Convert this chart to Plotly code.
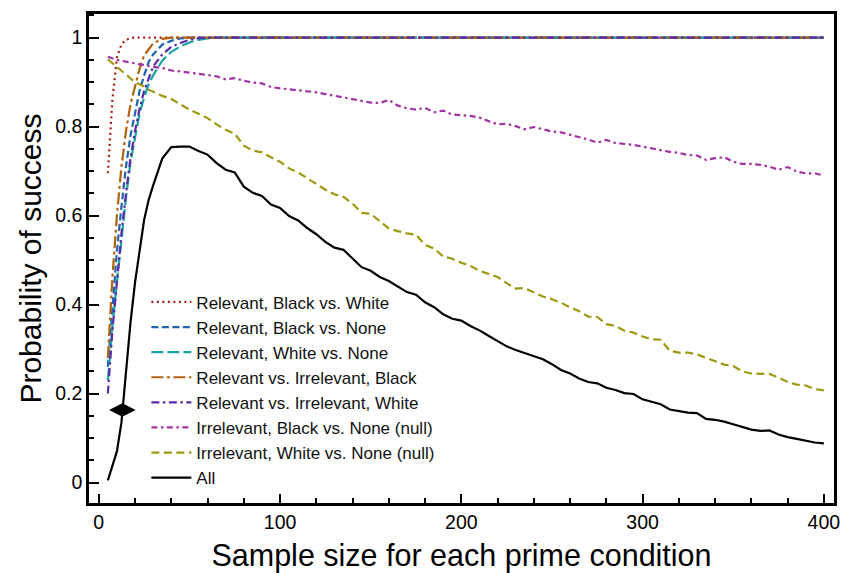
import plotly.graph_objects as go

# ---------------- data ----------------
X_EARLY = [5, 7.5, 10, 12.5, 15, 17.5, 20, 22.5, 25, 27.5, 30, 35, 40, 45, 50, 55, 60, 65, 70, 400]

rel_black_white = [0.695, 0.86, 0.955, 0.985, 0.995, 0.999, 1.0, 1.0, 1.0, 1.0, 1.0, 1.0, 1.0, 1.0, 1.0, 1.0, 1.0, 1.0, 1.0, 1.0]
rel_black_none = [0.26, 0.40, 0.52, 0.62, 0.71, 0.78, 0.83, 0.88, 0.915, 0.945, 0.962, 0.984, 0.993, 0.998, 1.0, 1.0, 1.0, 1.0, 1.0, 1.0]
rel_white_none = [0.23, 0.35, 0.45, 0.55, 0.64, 0.72, 0.78, 0.83, 0.865, 0.895, 0.915, 0.948, 0.968, 0.98, 0.989, 0.995, 0.998, 1.0, 1.0, 1.0]
rel_irr_black = [0.28, 0.46, 0.60, 0.71, 0.79, 0.85, 0.89, 0.93, 0.96, 0.975, 0.987, 0.997, 1.0, 1.0, 1.0, 1.0, 1.0, 1.0, 1.0, 1.0]
rel_irr_white = [0.20, 0.34, 0.45, 0.56, 0.65, 0.73, 0.79, 0.84, 0.88, 0.91, 0.935, 0.962, 0.979, 0.988, 0.995, 0.999, 1.0, 1.0, 1.0, 1.0]

X_ALL = [5, 7.5, 10, 12.5, 15, 17.5, 20, 22.5, 25, 27.5, 30,
         35, 40, 45, 50, 55, 60, 65, 70, 75, 80, 85, 90, 95, 100,
         105, 110, 115, 120, 125, 130, 135, 140, 145, 150, 155, 160, 165, 170, 175, 180,
         185, 190, 195, 200, 205, 210, 215, 220, 225, 230, 235, 240, 245, 250, 255, 260,
         265, 270, 275, 280, 285, 290, 295, 300, 305, 310, 315, 320, 325, 330, 335, 340,
         345, 350, 355, 360, 365, 370, 375, 380, 385, 390, 395, 400]

irr_black_none = [0.957, 0.953, 0.950, 0.948, 0.946, 0.944, 0.942, 0.940, 0.937, 0.935, 0.934,
                  0.932, 0.926, 0.924, 0.921, 0.918, 0.916, 0.913, 0.906, 0.909, 0.903, 0.899, 0.897, 0.889, 0.886,
                  0.884, 0.881, 0.879, 0.877, 0.873, 0.869, 0.866, 0.862, 0.857, 0.854, 0.853, 0.860, 0.847, 0.841, 0.838, 0.842,
                  0.832, 0.836, 0.827, 0.826, 0.824, 0.820, 0.812, 0.805, 0.806, 0.801, 0.794, 0.799, 0.794, 0.789, 0.787, 0.782,
                  0.776, 0.771, 0.764, 0.770, 0.763, 0.761, 0.759, 0.755, 0.751, 0.746, 0.743, 0.741, 0.736, 0.735, 0.725, 0.729,
                  0.731, 0.721, 0.716, 0.716, 0.714, 0.710, 0.703, 0.709, 0.699, 0.695, 0.695, 0.690]

irr_white_none = [0.951, 0.943, 0.935, 0.926, 0.917, 0.908, 0.900, 0.895, 0.890, 0.883, 0.878,
                  0.869, 0.862, 0.850, 0.838, 0.829, 0.819, 0.805, 0.793, 0.784, 0.757, 0.746, 0.742, 0.731, 0.721,
                  0.706, 0.697, 0.684, 0.671, 0.658, 0.648, 0.642, 0.627, 0.606, 0.604, 0.588, 0.571, 0.565, 0.560, 0.557, 0.534,
                  0.526, 0.508, 0.503, 0.494, 0.487, 0.476, 0.469, 0.462, 0.448, 0.436, 0.437, 0.427, 0.418, 0.412, 0.404, 0.394,
                  0.385, 0.373, 0.372, 0.356, 0.352, 0.341, 0.337, 0.328, 0.322, 0.321, 0.296, 0.292, 0.292, 0.288, 0.280, 0.273,
                  0.265, 0.262, 0.250, 0.245, 0.244, 0.244, 0.236, 0.226, 0.220, 0.218, 0.210, 0.207]

all_success = [0.005, 0.035, 0.07, 0.135, 0.25, 0.36, 0.45, 0.52, 0.59, 0.635, 0.668,
               0.728, 0.754, 0.755, 0.755, 0.745, 0.737, 0.718, 0.703, 0.697, 0.665, 0.651, 0.644, 0.625, 0.617,
               0.599, 0.589, 0.572, 0.558, 0.541, 0.528, 0.523, 0.503, 0.484, 0.476, 0.462, 0.453, 0.441, 0.428, 0.422, 0.405,
               0.394, 0.378, 0.368, 0.364, 0.352, 0.342, 0.330, 0.318, 0.306, 0.298, 0.291, 0.285, 0.277, 0.266, 0.253, 0.245,
               0.234, 0.226, 0.223, 0.213, 0.208, 0.201, 0.199, 0.187, 0.182, 0.176, 0.164, 0.160, 0.157, 0.156, 0.143, 0.141,
               0.137, 0.131, 0.125, 0.119, 0.116, 0.117, 0.108, 0.102, 0.098, 0.094, 0.090, 0.088]

MARK_X = [13]
MARK_Y = [0.163]

X_TICKS = [0, 100, 200, 300, 400]
Y_TICKS = [0, 0.2, 0.4, 0.6, 0.8, 1]

# ---------------- figure ----------------
FONT = "Liberation Sans, Arial, Helvetica, sans-serif"

series = [
    ("Relevant, Black vs. White", X_EARLY, rel_black_white, "#a81c14", "2px,3.5px"),
    ("Relevant, Black vs. None", X_EARLY, rel_black_none, "#1c64ac", "7px,3.5px"),
    ("Relevant, White vs. None", X_EARLY, rel_white_none, "#18a3a3", "12px,4px"),
    ("Relevant vs. Irrelevant, Black", X_EARLY, rel_irr_black, "#b0620e", "12px,3.5px,3px,3.5px"),
    ("Relevant vs. Irrelevant, White", X_EARLY, rel_irr_white, "#5b2aa8", "8px,3.5px,2.5px,3.5px"),
    ("Irrelevant, Black vs. None (null)", X_ALL, irr_black_none, "#a232a2", "6px,3.5px,2.5px,3.5px"),
    ("Irrelevant, White vs. None (null)", X_ALL, irr_white_none, "#9c9a10", "8px,4.5px"),
    ("All", X_ALL, all_success, "#000000", "solid"),
]

fig = go.Figure()
for i, (name, xs, ys, col, dash) in enumerate(series):
    fig.add_trace(go.Scatter(
        x=xs, y=ys, mode="lines", name=name, legendgroup=f"g{i}",
        line=dict(color=col, width=2.2, dash=dash),
    ))

fig.add_trace(go.Scatter(
    x=MARK_X, y=MARK_Y, mode="markers", showlegend=False,
    marker=dict(symbol="diamond-wide", size=19, color="black"),
))

fig.update_layout(
    width=844, height=573,
    margin=dict(l=89, r=10, t=14, b=70),
    paper_bgcolor="white", plot_bgcolor="white",
    font=dict(family=FONT, color="black"),
    showlegend=True,
    legend=dict(
        x=0.077, y=0.447, xanchor="left", yanchor="top",
        bgcolor="rgba(0,0,0,0)", borderwidth=0,
        font=dict(family=FONT, size=17, color="#111"),
        tracegroupgap=0, itemwidth=40, traceorder="grouped",
    ),
)

fig.update_xaxes(
    range=[-5.4, 405.6], tickvals=X_TICKS, ticktext=[str(v) for v in X_TICKS],
    ticks="inside", ticklen=9, tickwidth=2, tickcolor="black",
    minor=dict(dtick=20, tick0=0, ticks="inside", ticklen=5, tickwidth=1.5, tickcolor="black"),
    showline=True, linewidth=2.5, linecolor="black", mirror=True,
    showgrid=False, zeroline=False, automargin=False,
    tickfont=dict(family=FONT, size=19.5),
    title=dict(text="Sample size for each prime condition", font=dict(family=FONT, size=30.5), standoff=15),
)
fig.update_yaxes(
    range=[-0.046, 1.053], tickvals=Y_TICKS, ticktext=["0", "0.2", "0.4", "0.6", "0.8", "1"],
    ticks="inside", ticklen=10, tickwidth=2, tickcolor="black",
    minor=dict(dtick=0.05, tick0=0, ticks="inside", ticklen=5, tickwidth=1.5, tickcolor="black"),
    showline=True, linewidth=2.5, linecolor="black", mirror=True,
    showgrid=False, zeroline=False, automargin=False,
    tickfont=dict(family=FONT, size=19.5),
    title=dict(text="Probability of success", font=dict(family=FONT, size=30), standoff=5),
)

fig.write_html("out.html", config={"displayModeBar": False},
               post_script="document.body.style.margin='0';")
